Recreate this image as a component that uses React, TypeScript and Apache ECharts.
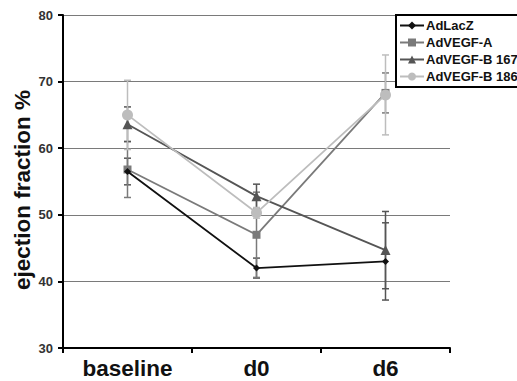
import React, { useEffect, useRef } from "react";
import * as echarts from "echarts";

const categories = ["baseline", "d0", "d6"];
const seriesNames = ["AdLacZ", "AdVEGF-A", "AdVEGF-B 167", "AdVEGF-B 186"];
const adLacZ = [56.5, 42, 43];
const adLacZErr = [2.0, 1.5, 5.8];
const adVegfA = [56.8, 47, 68.3];
const adVegfAErr = [4.2, 6.4, 3.0];
const adVegfB167 = [63.6, 52.8, 44.7];
const adVegfB167Err = [2.6, 1.8, 5.8];
const adVegfB186 = [65, 50.3, 68];
const adVegfB186Err = [5.2, 0.8, 6.0];
const yTicks = [30, 40, 50, 60, 70, 80];

const colors = ["#111111", "#7a7a7a", "#555555", "#bdbdbd"];
const symbols = ["diamond", "rect", "triangle", "circle"];
const symbolSizes = [7, 8, 10, 11];

export default function App() {
  const ref = useRef<HTMLDivElement>(null);
  useEffect(() => {
    document.body.style.margin = "0";
    if (!ref.current) return;
    const chart = echarts.init(ref.current, null, { renderer: "svg" });
    const values = [adLacZ, adVegfA, adVegfB167, adVegfB186];
    const errs = [adLacZErr, adVegfAErr, adVegfB167Err, adVegfB186Err];

    const errSeries = values.map((vals, si) => ({
      type: "custom",
      name: seriesNames[si] + " err",
      z: 1,
      silent: true,
      data: vals.map((v, i) => [i, v, errs[si][i]]),
      renderItem: (params: any, api: any) => {
        const c = api.value(0);
        const v = api.value(1);
        const e = api.value(2);
        const hi = api.coord([c, v + e]);
        const lo = api.coord([c, v - e]);
        const x = hi[0];
        const st = { stroke: si === 0 ? "#555" : colors[si], lineWidth: 1.5 };
        return {
          type: "group",
          children: [
            { type: "line", shape: { x1: x, y1: hi[1], x2: x, y2: lo[1] }, style: st },
            { type: "line", shape: { x1: x - 3.5, y1: hi[1], x2: x + 3.5, y2: hi[1] }, style: st },
            { type: "line", shape: { x1: x - 3.5, y1: lo[1], x2: x + 3.5, y2: lo[1] }, style: st },
          ],
        };
      },
    }));

    const lineSeries = values.map((vals, si) => ({
      type: "line",
      name: seriesNames[si],
      data: vals,
      z: 3 + (si === 0 ? 4 : si),
      symbol: symbols[si],
      symbolSize: symbolSizes[si],
      showAllSymbol: true,
      lineStyle: { color: colors[si], width: 1.8 },
      itemStyle: { color: colors[si] },
    }));

    chart.setOption({
      animation: false,
      backgroundColor: "#ffffff",
      grid: { left: 63, right: 67, top: 15, bottom: 33 },
      legend: {
        data: seriesNames,
        orient: "vertical",
        left: 396,
        top: 15,
        borderColor: "#000",
        borderWidth: 2,
        padding: [4, 3, 4, 3],
        itemGap: 4,
        itemWidth: 24,
        itemHeight: 10,
        backgroundColor: "#fff",
        textStyle: {
          fontFamily: "Liberation Sans, Arial, sans-serif",
          fontWeight: "bold",
          fontSize: 13,
          color: "#111",
          padding: [0, 0, 0, -3],
        },
      },
      xAxis: {
        type: "category",
        data: categories,
        boundaryGap: true,
        axisLine: { lineStyle: { color: "#000", width: 2 } },
        axisTick: { show: true, length: 5, lineStyle: { color: "#000", width: 2 } },
        axisLabel: {
          fontFamily: "Liberation Sans, Arial, sans-serif",
          fontWeight: "bold",
          fontSize: 22.5,
          color: "#111",
          margin: 9,
        },
      },
      yAxis: {
        type: "value",
        min: 30,
        max: 80,
        interval: 10,
        axisLine: { show: true, lineStyle: { color: "#000", width: 2 } },
        axisTick: { show: true, length: 5, lineStyle: { color: "#000", width: 2 } },
        axisLabel: {
          fontFamily: "Liberation Sans, Arial, sans-serif",
          fontWeight: "bold",
          fontSize: 13,
          color: "#333",
          margin: 10,
          formatter: (v: number) => (yTicks.includes(v) ? String(v) : ""),
        },
        splitLine: { show: true, lineStyle: { color: "#7a7a7a", width: 1 } },
      },
      graphic: [
        {
          type: "text",
          x: 22,
          y: 190,
          rotation: Math.PI / 2,
          style: {
            text: "ejection fraction %",
            fontFamily: "Liberation Sans, Arial, sans-serif",
            fontWeight: "bold",
            fontSize: 22.5,
            fill: "#111",
            align: "center",
            verticalAlign: "middle",
          },
        },
      ],
      series: [...errSeries, ...lineSeries],
    });
    return () => chart.dispose();
  }, []);
  return <div ref={ref} style={{ width: 517, height: 381 }} />;
}
